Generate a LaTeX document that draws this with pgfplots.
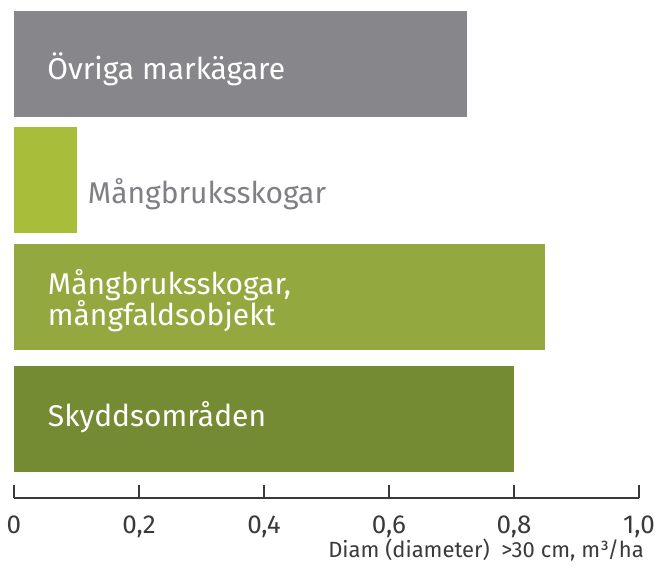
\documentclass[border=0pt]{standalone}
\usepackage{fontspec}
\setmainfont{Fira Sans}
\usepackage{pgfplots}
\pgfplotsset{compat=1.18}
\definecolor{cgray}{HTML}{87878B}
\definecolor{clight}{HTML}{A8BD3A}
\definecolor{cmid}{HTML}{94A840}
\definecolor{cdark}{HTML}{758B33}
\definecolor{axgray}{HTML}{3A3A3A}
\definecolor{lblgray}{HTML}{7F7F84}
\begin{document}
\begin{tikzpicture}[x=1pt,y=1pt]
\useasboundingbox (0,0) rectangle (659,568);
\begin{axis}[
  at={(14pt,568pt)}, anchor=north west,
  scale only axis, width=625pt, height=498pt,
  xmin=0, xmax=1, ymin=0, ymax=498,
  xbar, bar width=106, bar shift=0pt,
  axis x line*=bottom, axis y line=none,
  x axis line style={-, draw=axgray, line width=1.2pt},
  xtick={0,0.2,0.4,0.6,0.8,1},
  xticklabels={0,{0,2},{0,4},{0,6},{0,8},{1,0}},
  xtick align=inside, major tick length=13pt,
  xtick style={draw=axgray, line width=1.2pt},
  xticklabel style={anchor=base, yshift=-35pt, inner sep=0pt, font=\fontsize{26}{30}\selectfont, text=axgray},
  ytick=\empty,
  clip=false,
]
\addplot[fill=cgray, draw=none] coordinates {(0.725,433.5)};
\addplot[fill=clight, draw=none] coordinates {(0.10,317.5)};
\addplot[fill=cmid, draw=none] coordinates {(0.85,201)};
\addplot[fill=cdark, draw=none] coordinates {(0.80,79)};
\node[anchor=base west, inner sep=0pt, text=white, font=\fontsize{30}{34}\selectfont] at (axis cs:0.053,418) {Övriga markägare};
\node[anchor=base west, inner sep=0pt, text=lblgray, font=\fontsize{30}{34}\selectfont] at (axis cs:0.118,294) {Mångbruksskogar};
\node[anchor=base west, inner sep=0pt, text=white, font=\fontsize{30}{34}\selectfont] at (axis cs:0.054,203) {Mångbruksskogar,};
\node[anchor=base west, inner sep=0pt, text=white, font=\fontsize{30}{34}\selectfont] at (axis cs:0.054,172) {mångfaldsobjekt};
\node[anchor=base west, inner sep=0pt, text=white, font=\fontsize{30}{34}\selectfont] at (axis cs:0.054,71) {Skyddsområden};
\node[anchor=base east, inner sep=0pt, text=axgray, font=\fontsize{22}{26}\selectfont] at (rel axis cs:1,0) [xshift=5pt, yshift=-59pt] {Diam (diameter)\ \ >30 cm, m³/ha};
\end{axis}
\end{tikzpicture}
\end{document}
